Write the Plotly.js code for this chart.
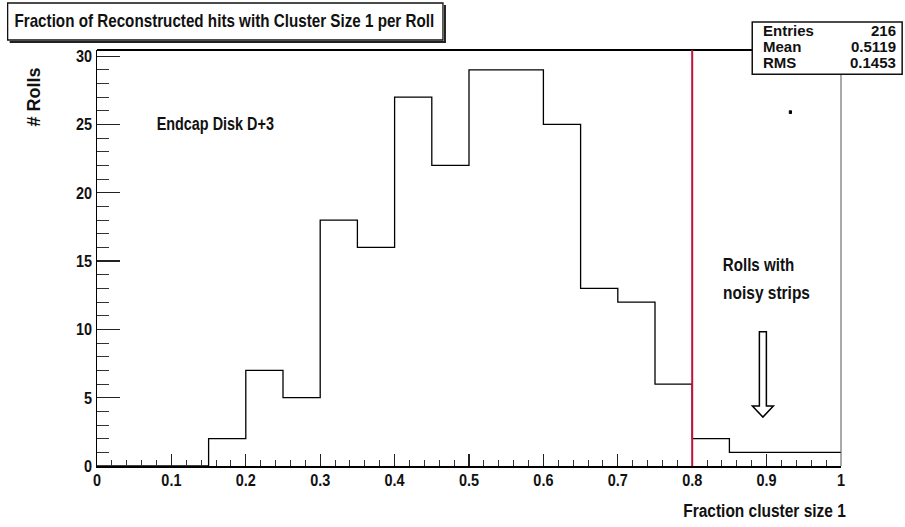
<!DOCTYPE html>
<html>
<head>
<meta charset="utf-8">
<script src="https://cdn.plot.ly/plotly-3.0.1.min.js"></script>
<style>
  html, body { margin: 0; padding: 0; background: #fff; }
  #chart { width: 905px; height: 527px; }
</style>
</head>
<body>
<div id="chart"></div>
<script>
// ---- data ----
var binEdges = [0, 0.05, 0.1, 0.15, 0.2, 0.25, 0.3, 0.35, 0.4, 0.45, 0.5,
                0.55, 0.6, 0.65, 0.7, 0.75, 0.8, 0.85, 0.9, 0.95, 1.0];
var binCounts = [0, 0, 0, 2, 7, 5, 18, 16, 27, 22, 29, 29, 25, 13, 12, 6, 2, 1, 1, 1];
var statLabels = ["Entries", "Mean", "RMS"];
var statValues = ["216", "0.5119", "0.1453"];
var titleText = "Fraction of Reconstructed hits with Cluster Size 1 per Roll";
var xTitle = "Fraction cluster size 1";
var yTitle = "# Rolls";
var noteDisk = "Endcap Disk D+3";
var noteNoisy1 = "Rolls with";
var noteNoisy2 = "noisy strips";
var cutValue = 0.8;

// step outline built from bins
var stepX = binEdges.slice();
var stepY = binCounts.concat([binCounts[binCounts.length - 1]]);

var FONT = "'Liberation Sans', Arial, sans-serif";

var trace = {
  x: stepX, y: stepY, type: 'scatter', mode: 'lines',
  line: {shape: 'hv', color: '#000', width: 1.3},
  cliponaxis: false, hoverinfo: 'skip', showlegend: false
};

// each annotation carries a horizontal condensing factor (applied after render)
var annotations = [];
var squeeze = [];
function addAnn(a, f) { annotations.push(a); squeeze.push(f); }

addAnn({text: '<b>' + titleText + '</b>', xref: 'paper', yref: 'paper', x: 0.1718, y: 1.0698,
  xanchor: 'center', yanchor: 'middle', showarrow: false, font: {family: FONT, size: 19, color: '#111'}}, 0.80);
addAnn({text: '<b>' + yTitle + '</b>', xref: 'paper', yref: 'paper', x: -0.084, y: 0.887,
  xanchor: 'center', yanchor: 'middle', textangle: -90, showarrow: false, font: {family: FONT, size: 18, color: '#111'}}, 1);
addAnn({text: '<b>' + xTitle + '</b>', xref: 'paper', yref: 'paper', x: 0.8968, y: -0.107,
  xanchor: 'center', yanchor: 'middle', showarrow: false, font: {family: FONT, size: 18, color: '#111'}}, 0.86);
addAnn({text: '<b>' + noteDisk + '</b>', xref: 'x', yref: 'y', x: 0.1597, y: 25.0,
  xanchor: 'center', yanchor: 'middle', showarrow: false, font: {family: FONT, size: 18, color: '#111'}}, 0.80);
addAnn({text: '<b>' + noteNoisy1 + '</b>', xref: 'x', yref: 'y', x: 0.8885, y: 14.7,
  xanchor: 'center', yanchor: 'middle', showarrow: false, font: {family: FONT, size: 18, color: '#111'}}, 0.84);
addAnn({text: '<b>' + noteNoisy2 + '</b>', xref: 'x', yref: 'y', x: 0.8995, y: 12.65,
  xanchor: 'center', yanchor: 'middle', showarrow: false, font: {family: FONT, size: 18, color: '#111'}}, 0.86);

// stats box rows
var statRowsY = [1.0474, 1.0089, 0.9705];
for (var i = 0; i < statLabels.length; i++) {
  addAnn({text: '<b>' + statLabels[i] + '</b>', xref: 'paper', yref: 'paper', x: 0.892, y: statRowsY[i],
    xanchor: 'left', yanchor: 'middle', showarrow: false, font: {family: FONT, size: 15, color: '#111'}}, 1);
  addAnn({text: '<b>' + statValues[i] + '</b>', xref: 'paper', yref: 'paper', x: 1.076, y: statRowsY[i],
    xanchor: 'right', yanchor: 'middle', showarrow: false, font: {family: FONT, size: 15, color: '#111'}}, 1);
}

var shapes = [
  // right frame line
  {type: 'line', xref: 'paper', yref: 'paper', x0: 1, x1: 1, y0: 0, y1: 1, line: {color: '#555', width: 1}},
  // top frame line
  {type: 'line', xref: 'paper', yref: 'paper', x0: 0, x1: 0.8807, y0: 1, y1: 1, line: {color: '#000', width: 2}},
  // cut line
  {type: 'line', xref: 'x', yref: 'paper', x0: cutValue, x1: cutValue, y0: 0, y1: 1, line: {color: '#c4123c', width: 2}},
  // title box shadow + box
  {type: 'path', xref: 'paper', yref: 'paper',
   path: 'M -0.1174 1.0192 L 0.4677 1.0192 L 0.4677 1.108', line: {color: '#222', width: 2}},
  {type: 'rect', xref: 'paper', yref: 'paper', x0: -0.1201, x1: 0.465, y0: 1.024, y1: 1.113,
   line: {color: '#111', width: 1.3}, fillcolor: 'rgba(0,0,0,0)'},
  // stats box
  {type: 'rect', xref: 'paper', yref: 'paper', x0: 0.8807, x1: 1.0822, y0: 0.942, y1: 1.0674,
   line: {color: '#111', width: 1.5}, fillcolor: '#fff'},
  // hollow arrow
  {type: 'path', xref: 'x', yref: 'y',
   path: 'M 0.8903 9.82 L 0.8997 9.82 L 0.8997 4.39 L 0.9091 4.39 L 0.895 3.58 L 0.8809 4.39 L 0.8903 4.39 Z',
   line: {color: '#000', width: 1.5}, fillcolor: '#fff'},
  // small dot
  {type: 'rect', xref: 'x', yref: 'y', x0: 0.9305, x1: 0.9335, y0: 25.8, y1: 26.0,
   line: {color: '#000', width: 1}, fillcolor: '#000'}
];

var tickFont = {family: FONT, size: 17, color: '#111', weight: 'bold'};

var layout = {
  width: 905, height: 527,
  margin: {l: 97, r: 64, t: 50, b: 61},
  paper_bgcolor: '#fff', plot_bgcolor: '#fff',
  showlegend: false,
  xaxis: {
    range: [0, 1], tick0: 0, dtick: 0.1, ticks: 'inside', ticklen: 12, tickwidth: 1.3, tickcolor: '#222',
    showgrid: false, zeroline: false, showline: true, linecolor: '#000', linewidth: 1.5,
    tickfont: tickFont, tickformat: '.1~f', ticklabelstandoff: -2,
    minor: {dtick: 0.02, ticks: 'inside', ticklen: 6, tickwidth: 1, tickcolor: '#333', showgrid: false}
  },
  yaxis: {
    range: [0, 30.45], tick0: 0, dtick: 5, ticks: 'inside', ticklen: 23, tickwidth: 1.3, tickcolor: '#222',
    showgrid: false, zeroline: false, showline: true, linecolor: '#000', linewidth: 1.5,
    tickfont: tickFont,
    minor: {dtick: 1, ticks: 'inside', ticklen: 12, tickwidth: 1, tickcolor: '#333', showgrid: false}
  },
  annotations: annotations,
  shapes: shapes
};

function condense(el, f) {
  if (!el || f === 1) return;
  var w = el.getComputedTextLength();
  if (w > 0) {
    el.setAttribute('textLength', (w * f).toFixed(2));
    el.setAttribute('lengthAdjust', 'spacingAndGlyphs');
  }
}

Plotly.newPlot('chart', [trace], layout, {staticPlot: true, displayModeBar: false}).then(function (gd) {
  var annTexts = gd.querySelectorAll('.annotation .annotation-text');
  for (var k = 0; k < annTexts.length && k < squeeze.length; k++) condense(annTexts[k], squeeze[k]);
  gd.querySelectorAll('.xtick text, .ytick text').forEach(function (t) { condense(t, 0.85); });
});
</script>
</body>
</html>
